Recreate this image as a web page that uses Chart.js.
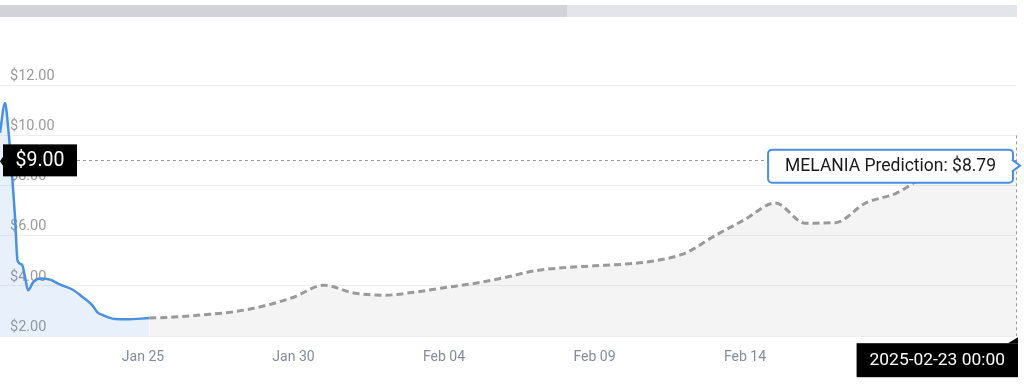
<!DOCTYPE html>
<html>
<head>
<meta charset="utf-8">
<script src="https://cdn.jsdelivr.net/npm/chart.js@4.4.1/dist/chart.umd.min.js"></script>
<style>
  html, body { margin: 0; padding: 0; background: #fff; }
  body { width: 1024px; height: 388px; position: relative; overflow: hidden; font-family: Roboto, sans-serif; }
  .bar { position: absolute; top: 5px; height: 12px; }
  #chartWrap { position: absolute; left: 0; top: 0; width: 1024px; height: 388px; }
</style>
</head>
<body>
<div class="bar" style="left:0;width:567px;background:#d2d3d8"></div>
<div class="bar" style="left:567px;width:450px;background:#e4e5ea"></div>
<div id="chartWrap"><canvas id="myChart"></canvas></div>
<script>
/* globals Chart:false */
(() => {
    'use strict';

    // price history (blue line)
    const historyTimes = [
        '2025-01-20T06:00', '2025-01-20T10:00', '2025-01-20T12:30', '2025-01-20T15:30',
        '2025-01-20T18:00', '2025-01-20T20:00', '2025-01-20T23:30', '2025-01-21T02:00',
        '2025-01-21T04:20', '2025-01-21T08:30', '2025-01-21T14:00', '2025-01-21T22:00',
        '2025-01-22T06:00', '2025-01-22T16:00', '2025-01-23T00:00', '2025-01-23T07:30',
        '2025-01-23T11:30', '2025-01-23T16:00', '2025-01-24T02:00', '2025-01-24T11:00',
        '2025-01-25T05:00'
    ];
    const historyPrices = [
        10.1, 11.28, 10.3, 8.5,
        6.74, 5.0, 4.85, 4.35,
        3.83, 4.15, 4.3, 4.25,
        4.05, 3.85, 3.55, 3.24,
        2.96, 2.84, 2.68, 2.67,
        2.72
    ];

    // prediction (grey dashed line)
    const predictionTimes = [
        '2025-01-25T05:00', '2025-01-26T00:00', '2025-01-27T00:00', '2025-01-28T00:00',
        '2025-01-29T00:00', '2025-01-30T00:00', '2025-01-31T00:00', '2025-02-01T00:00',
        '2025-02-02T00:00', '2025-02-03T00:00', '2025-02-04T00:00', '2025-02-05T00:00',
        '2025-02-06T00:00', '2025-02-07T00:00', '2025-02-08T00:00', '2025-02-09T00:00',
        '2025-02-10T00:00', '2025-02-11T00:00', '2025-02-12T00:00', '2025-02-13T00:00',
        '2025-02-14T00:00', '2025-02-15T00:00', '2025-02-16T00:00', '2025-02-17T00:00',
        '2025-02-18T00:00', '2025-02-19T00:00', '2025-02-20T00:00', '2025-02-21T00:00',
        '2025-02-22T00:00', '2025-02-23T00:00'
    ];
    const predictionPrices = [
        2.72, 2.76, 2.85, 2.97,
        3.2, 3.55, 4.03, 3.72,
        3.63, 3.75, 3.93, 4.1,
        4.33, 4.6, 4.73, 4.8,
        4.87, 5.0, 5.3, 6.0,
        6.65, 7.3, 6.5, 6.52,
        7.3, 7.68, 8.35, 8.55,
        8.7, 8.79
    ];

    // x axis ticks
    const tickTimes = ['2025-01-25T00:00', '2025-01-30T00:00', '2025-02-04T00:00', '2025-02-09T00:00', '2025-02-14T00:00'];
    const tickLabels = ['Jan 25', 'Jan 30', 'Feb 04', 'Feb 09', 'Feb 14'];

    // y axis ticks
    const yTicks = [2, 4, 6, 8, 10, 12];

    const crosshairPrice = 9.00;
    const coinName = 'MELANIA';
    const rangeStart = '2025-01-20T06:00';
    const rangeEnd = '2025-02-23T00:00';

    const toMs = s => Date.parse(s + ':00Z');
    const toPoints = (times, prices) => times.map((t, i) => ({ x: toMs(t), y: prices[i] }));

    const FONT = 'Roboto, "Noto Sans", sans-serif';

    // crosshair, price label, tooltip and date label
    const overlay = {
        id: 'overlay',
        afterDatasetsDraw(chart) {
            const { ctx, chartArea: area, scales: { x, y } } = chart;
            const lastIdx = predictionTimes.length - 1;
            const px = x.getPixelForValue(toMs(predictionTimes[lastIdx]));
            const py = y.getPixelForValue(predictionPrices[lastIdx]);
            const cy = y.getPixelForValue(crosshairPrice);

            ctx.save();
            // dashed crosshair lines
            ctx.strokeStyle = '#9a9a9a';
            ctx.lineWidth = 1;
            ctx.setLineDash([3, 3]);
            ctx.beginPath();
            ctx.moveTo(77, Math.round(cy) + 0.5);
            ctx.lineTo(area.right, Math.round(cy) + 0.5);
            ctx.moveTo(Math.round(px) + 0.5, cy - 25);
            ctx.lineTo(Math.round(px) + 0.5, area.bottom);
            ctx.stroke();
            ctx.setLineDash([]);

            // price label on the left
            ctx.fillStyle = '#000';
            ctx.fillRect(3, cy - 16, 74, 32);
            ctx.beginPath();
            ctx.moveTo(0, cy + 1);
            ctx.lineTo(4, cy - 5);
            ctx.lineTo(4, cy + 7);
            ctx.closePath();
            ctx.fill();
            ctx.fillStyle = '#fff';
            ctx.font = '19.5px ' + FONT;
            ctx.textAlign = 'center';
            ctx.textBaseline = 'middle';
            ctx.fillText('$' + crosshairPrice.toFixed(2), 40, cy + 1);

            // tooltip box
            const tipText = coinName + ' Prediction: $' + predictionPrices[lastIdx].toFixed(2);
            ctx.font = '17.5px ' + FONT;
            const tw = ctx.measureText(tipText).width;
            const bRight = px - 3;
            const bLeft = bRight - tw - 34;
            const bTop = py - 16;
            const bBot = py + 17;
            ctx.beginPath();
            ctx.roundRect(bLeft, bTop, bRight - bLeft, bBot - bTop, 4);
            ctx.fillStyle = '#fff';
            ctx.fill();
            ctx.strokeStyle = '#4a8fe0';
            ctx.lineWidth = 2;
            ctx.stroke();
            // caret
            ctx.beginPath();
            ctx.moveTo(bRight - 1, py - 6);
            ctx.lineTo(bRight + 7, py);
            ctx.lineTo(bRight - 1, py + 6);
            ctx.fillStyle = '#fff';
            ctx.fill();
            ctx.stroke();
            ctx.fillStyle = '#1a1a1a';
            ctx.textAlign = 'left';
            ctx.fillText(tipText, bLeft + 17, py + 1);

            // date label at the bottom
            const dateText = predictionTimes[lastIdx].replace('T', ' ');
            ctx.font = '17.4px ' + FONT;
            const dw = ctx.measureText(dateText).width;
            const dRight = px + 2;
            const dLeft = dRight - dw - 26;
            const dTop = area.bottom + 7;
            ctx.fillStyle = '#000';
            ctx.fillRect(dLeft, dTop, dRight - dLeft, 34);
            ctx.beginPath();
            ctx.moveTo(dRight - 10, dTop);
            ctx.lineTo(dRight, dTop - 6);
            ctx.lineTo(dRight, dTop);
            ctx.closePath();
            ctx.fill();
            ctx.fillStyle = '#fff';
            ctx.textAlign = 'center';
            ctx.fillText(dateText, (dLeft + dRight) / 2, dTop + 17);
            ctx.restore();
        }
    };

    const ctx = document.getElementById('myChart');

    new Chart(ctx, {
        type: 'line',
        data: {
            datasets: [{
                data: toPoints(historyTimes, historyPrices),
                borderColor: '#4a8fe0',
                borderWidth: 2.5,
                backgroundColor: 'rgba(74,143,224,0.13)',
                fill: 'start',
                pointRadius: 0,
                cubicInterpolationMode: 'monotone'
            }, {
                data: toPoints(predictionTimes, predictionPrices),
                borderColor: '#9a9a9a',
                borderWidth: 3,
                borderDash: [7, 4],
                backgroundColor: 'rgba(0,0,0,0.045)',
                fill: 'start',
                pointRadius: 0,
                cubicInterpolationMode: 'monotone'
            }]
        },
        options: {
            responsive: true,
            maintainAspectRatio: false,
            animation: false,
            layout: {
                padding: { top: 85, right: 8, left: 0, bottom: 17 }
            },
            scales: {
                x: {
                    type: 'linear',
                    min: toMs(rangeStart),
                    max: toMs(rangeEnd),
                    afterBuildTicks: scale => {
                        scale.ticks = tickTimes.map(t => ({ value: toMs(t) }));
                    },
                    grid: { display: false },
                    border: { display: false },
                    ticks: {
                        autoSkip: false,
                        maxRotation: 0,
                        padding: 5,
                        color: '#858b96',
                        font: { family: FONT, size: 14 },
                        callback: (value, index) => tickLabels[index]
                    }
                },
                y: {
                    min: yTicks[0],
                    max: yTicks[yTicks.length - 1],
                    afterBuildTicks: scale => {
                        scale.ticks = yTicks.map(v => ({ value: v }));
                    },
                    afterFit: scale => { scale.width = 0; },
                    grid: { color: '#eeeeee', drawTicks: false },
                    border: { display: false },
                    ticks: {
                        mirror: true,
                        padding: 10,
                        labelOffset: -9,
                        color: '#9a9a9a',
                        font: { family: FONT, size: 14.5 },
                        callback: v => '$' + v.toFixed(2)
                    }
                }
            },
            plugins: {
                legend: { display: false },
                tooltip: { enabled: false }
            }
        },
        plugins: [overlay]
    });
})();
</script>
</body>
</html>
